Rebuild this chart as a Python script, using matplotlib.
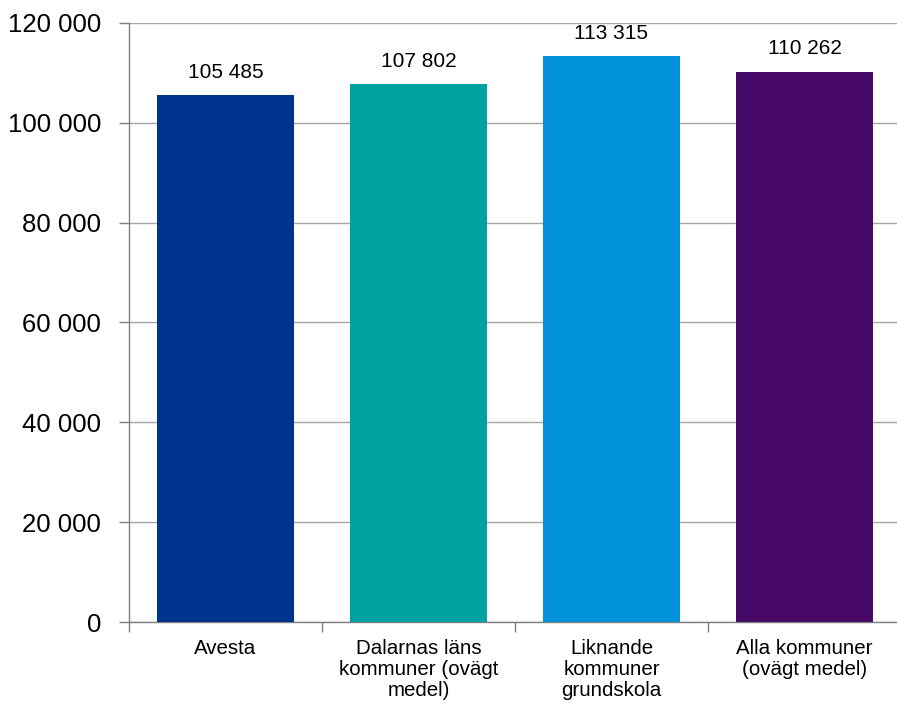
import numpy as np
import matplotlib
matplotlib.use('Agg')
import matplotlib.pyplot as plt
from matplotlib.ticker import FuncFormatter, FixedLocator

plt.rcParams['font.family'] = ['Liberation Sans', 'DejaVu Sans']

# Data
categories = ['Avesta', 'Dalarnas läns\nkommuner (ovägt\nmedel)',
              'Liknande\nkommuner\ngrundskola', 'Alla kommuner\n(ovägt medel)']
values = [105485, 107802, 113315, 110262]
colors = ['#00338D', '#00A3A1', '#0091DA', '#470A68']

def fmt(v, pos=None):
    return f'{int(v):,}'.replace(',', ' ')

fig = plt.figure(figsize=(8.97, 7.07), dpi=100)
ax = fig.add_axes([129 / 897, 85 / 707, 772 / 897, 599 / 707])

x = np.arange(len(values))
bars = ax.bar(x, values, width=0.705, color=colors, zorder=3)

for xi, v in zip(x, values):
    ax.annotate(fmt(v), (xi, v), xytext=(0, 9.5), textcoords='offset points',
                ha='center', va='bottom', fontsize=15)

ax.set_xlim(-0.5, 3.5)
ax.set_ylim(0, 120000)
ax.set_yticks(np.arange(0, 120001, 20000))
ax.yaxis.set_major_formatter(FuncFormatter(fmt))
ax.grid(axis='y', color='#a6a6a6', linewidth=1, zorder=0)

ax.set_xticks(x)
ax.set_xticklabels(categories, fontsize=14.8, linespacing=1.13)
ax.xaxis.set_minor_locator(FixedLocator(np.arange(-0.5, 3.6, 1)))
ax.tick_params(axis='x', which='major', length=0, pad=12)
ax.tick_params(axis='x', which='minor', length=7, color='#7f7f7f', width=1)
ax.tick_params(axis='y', labelsize=18.5, length=7, color='#7f7f7f', width=1, pad=13)

for side in ['top', 'right']:
    ax.spines[side].set_visible(False)
for side in ['left', 'bottom']:
    ax.spines[side].set_color('#7f7f7f')
    ax.spines[side].set_linewidth(1)

plt.savefig('out.png', dpi=100)
